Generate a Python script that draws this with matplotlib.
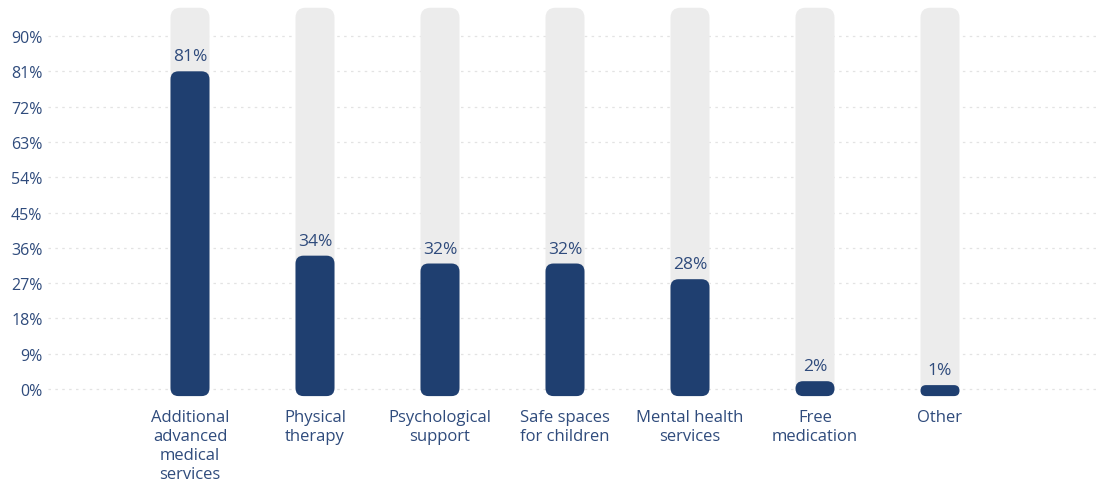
import matplotlib
matplotlib.use("Agg")
import matplotlib.pyplot as plt
from matplotlib.patches import FancyBboxPatch
import numpy as np

# Data
categories = [
    "Additional\nadvanced\nmedical\nservices",
    "Physical\ntherapy",
    "Psychological\nsupport",
    "Safe spaces\nfor children",
    "Mental health\nservices",
    "Free\nmedication",
    "Other",
]
values = [81, 34, 32, 32, 28, 2, 1]
value_labels = ["81%", "34%", "32%", "32%", "28%", "2%", "1%"]
y_ticks = [0, 9, 18, 27, 36, 45, 54, 63, 72, 81, 90]
y_tick_labels = [f"{t}%" for t in y_ticks]

# Styling
NAVY = "#1f3f70"
TRACK = "#ececec"
TEXT = "#2f4b7c"
GRID = "#e3e3e3"
FONT = ["Open Sans", "DejaVu Sans"]

plt.rcParams["font.family"] = FONT

W, H, DPI = 1108, 489, 100
fig = plt.figure(figsize=(W / DPI, H / DPI), dpi=DPI)

ylo, yhi = -3.0, 99.0
xlo, xhi = -1.136, 7.28
ax_left, ax_w = 48 / W, 1052 / W
ax_bot, ax_h = (H - 401.8) / H, 400.1 / H
ax = fig.add_axes([ax_left, ax_bot, ax_w, ax_h])
ax.set_xlim(xlo, xhi)
ax.set_ylim(ylo, yhi)

# pixels per data unit
px_x = ax_w * W / (xhi - xlo)
px_y = ax_h * H / (yhi - ylo)

x = np.arange(len(categories))
bar_w = 39 / px_x
base = -1.8
track_top = max(values) * 1.2


def rounded_bar(xc, y0, y1, color, r_px, z):
    h_px = (y1 - y0) * px_y
    r = min(r_px, h_px / 2, 19)
    patch = FancyBboxPatch(
        (xc - bar_w / 2, y0), bar_w, y1 - y0,
        boxstyle=f"round,pad=0,rounding_size={r / px_x}",
        mutation_aspect=px_x / px_y,
        facecolor=color, edgecolor="none", zorder=z,
    )
    ax.add_patch(patch)


for xi, v in zip(x, values):
    rounded_bar(xi, base, track_top, TRACK, 10, 1)
    rounded_bar(xi, base, v, NAVY, 8, 2)

for xi, v, lab in zip(x, values, value_labels):
    ax.annotate(lab, (xi, v), xytext=(0, 5), textcoords="offset points",
                ha="center", va="bottom", fontsize=12.5, color=TEXT, zorder=3)

# Grid
for t in y_ticks:
    ax.axhline(t, color=GRID, lw=0.9, ls=(0, (2, 3.5)), zorder=0)

ax.set_yticks(y_ticks)
ax.set_yticklabels(y_tick_labels, fontsize=11.5, color=TEXT)
ax.set_xticks(x)
ax.set_xticklabels(categories, fontsize=12, color=TEXT, linespacing=1.25, va="top")
ax.tick_params(axis="both", length=0)
ax.tick_params(axis="y", pad=4)
ax.tick_params(axis="x", pad=6)

for s in ax.spines.values():
    s.set_visible(False)

fig.savefig("out.png", dpi=DPI)
